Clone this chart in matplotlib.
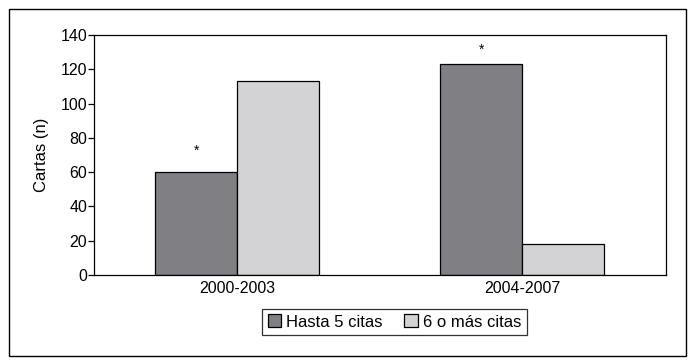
import numpy as np
import matplotlib.pyplot as plt
from matplotlib.patches import Rectangle

# data
periods = ["2000-2003", "2004-2007"]
hasta_5 = [60, 123]
seis_o_mas = [113, 18]
series_labels = ["Hasta 5 citas", "6 o más citas"]
significant = [True, True]  # asterisk over "Hasta 5 citas"

plt.rcParams['font.family'] = ['Liberation Sans', 'DejaVu Sans']

fig = plt.figure(figsize=(6.96, 3.62), dpi=100)
ax = fig.add_axes([94 / 696, 1 - 275 / 362, 572 / 696, 240 / 362])

x = np.arange(len(periods))
w = 0.288
dark = '#808084'
light = '#d3d3d5'

ax.bar(x - w / 2, hasta_5, w, color=dark, edgecolor='black', linewidth=0.9,
       label=series_labels[0])
ax.bar(x + w / 2, seis_o_mas, w, color=light, edgecolor='black', linewidth=0.9,
       label=series_labels[1])

# asterisks above the dark bars
offsets = [10, 5]
for i, (v, sig) in enumerate(zip(hasta_5, significant)):
    if sig:
        ax.annotate('*', (x[i] - w / 2, v), xytext=(0, offsets[i]),
                    textcoords='offset points', ha='center', va='bottom', fontsize=10)

ax.set_xlim(-0.502, 1.505)
ax.set_ylim(0, 140)
ax.set_yticks(range(0, 141, 20))
ax.set_xticks(x)
ax.set_xticklabels(periods)
ax.tick_params(axis='x', length=0, labelsize=11.5, pad=4)
ax.tick_params(axis='y', length=4, width=0.9, labelsize=11.5, pad=1)
for s in ax.spines.values():
    s.set_linewidth(0.9)
ax.set_ylabel('Cartas (n)', fontsize=12, labelpad=8)

leg = ax.legend(loc='center', bbox_to_anchor=(394.5 / 696, 1 - 322 / 362),
                bbox_transform=fig.transFigure, ncol=2, frameon=True, fancybox=False,
                edgecolor='black', fontsize=12, handlelength=0.8, handleheight=0.8,
                handletextpad=0.3, columnspacing=1.3, borderpad=0.35)
leg.get_frame().set_linewidth(0.9)

# outer frame around the whole figure
fig.patches.append(Rectangle((9 / 696, 1 - 356 / 362), 677 / 696, 347 / 362,
                             transform=fig.transFigure, fill=False,
                             edgecolor='black', linewidth=1.0))

fig.savefig('out.png', dpi=100)
